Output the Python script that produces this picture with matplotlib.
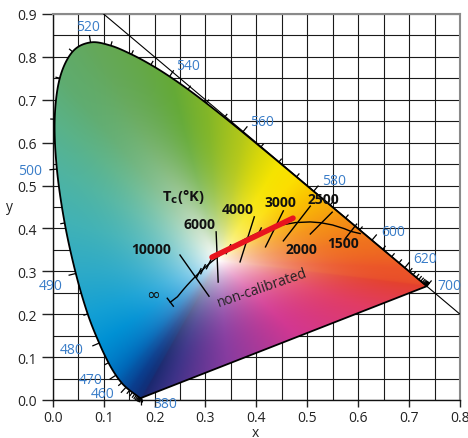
import numpy as np
import matplotlib
matplotlib.use("Agg")
import matplotlib.pyplot as plt
from matplotlib.path import Path
from matplotlib.patches import PathPatch

# ---------------- data ----------------
# CIE 1931 spectral locus (nm, x, y)
wl = [380, 385, 390, 395, 400, 405, 410, 415, 420, 425, 430, 435, 440, 445, 450,
      455, 460, 465, 470, 475, 480, 485, 490, 495, 500, 505, 510, 515, 520, 525,
      530, 535, 540, 545, 550, 555, 560, 565, 570, 575, 580, 585, 590, 595, 600,
      605, 610, 615, 620, 625, 630, 635, 640, 645, 650, 655, 660, 665, 670, 675,
      680, 685, 690, 695, 700]
loc_x = [0.1741, 0.1740, 0.1738, 0.1736, 0.1733, 0.1730, 0.1726, 0.1721, 0.1714, 0.1703,
         0.1689, 0.1669, 0.1644, 0.1611, 0.1566, 0.1510, 0.1440, 0.1355, 0.1241, 0.1096,
         0.0913, 0.0687, 0.0454, 0.0235, 0.0082, 0.0039, 0.0139, 0.0389, 0.0743, 0.1142,
         0.1547, 0.1929, 0.2296, 0.2658, 0.3016, 0.3373, 0.3731, 0.4087, 0.4441, 0.4788,
         0.5125, 0.5448, 0.5752, 0.6029, 0.6270, 0.6482, 0.6658, 0.6801, 0.6915, 0.7006,
         0.7079, 0.7140, 0.7190, 0.7230, 0.7260, 0.7283, 0.7300, 0.7311, 0.7320, 0.7327,
         0.7334, 0.7340, 0.7344, 0.7346, 0.7347]
loc_y = [0.0050, 0.0050, 0.0049, 0.0049, 0.0048, 0.0048, 0.0048, 0.0048, 0.0051, 0.0058,
         0.0069, 0.0086, 0.0109, 0.0138, 0.0177, 0.0227, 0.0297, 0.0399, 0.0578, 0.0868,
         0.1327, 0.2007, 0.2950, 0.4127, 0.5384, 0.6548, 0.7502, 0.8120, 0.8338, 0.8262,
         0.8059, 0.7816, 0.7543, 0.7243, 0.6923, 0.6589, 0.6245, 0.5896, 0.5547, 0.5202,
         0.4866, 0.4544, 0.4242, 0.3965, 0.3725, 0.3514, 0.3340, 0.3197, 0.3083, 0.2993,
         0.2920, 0.2859, 0.2809, 0.2770, 0.2740, 0.2717, 0.2700, 0.2689, 0.2680, 0.2673,
         0.2666, 0.2660, 0.2656, 0.2654, 0.2653]

# wavelength labels
wl_labels = ["520", "540", "560", "580", "600", "620", "700",
             "500", "490", "480", "470", "460", "380"]
wl_lab_x = [0.069, 0.265, 0.412, 0.553, 0.669, 0.731, 0.779,
            -0.045, -0.004, 0.038, 0.074, 0.099, 0.222]
wl_lab_y = [0.870, 0.781, 0.649, 0.511, 0.394, 0.331, 0.268,
            0.536, 0.268, 0.117, 0.047, 0.014, -0.007]
long_tick_wl = [380, 460, 470, 480, 490, 500, 520, 540, 560, 580, 600, 620, 700]

# colours seen along the spectral locus (nm -> RGB 0-255)
col_wl = [380, 440, 455, 465, 470, 475, 480, 485, 490, 495, 500, 505, 510, 520, 530,
          540, 550, 560, 565, 570, 575, 580, 585, 590, 600, 620, 700]
col_rgb = [(25, 40, 110), (15, 50, 125), (10, 62, 142), (5, 85, 165), (0, 105, 185),
           (0, 125, 200), (0, 145, 212), (20, 160, 212), (45, 170, 200), (65, 178, 182),
           (80, 180, 160), (90, 178, 135), (95, 172, 112), (100, 168, 90), (100, 168, 75),
           (100, 170, 55), (130, 182, 40), (180, 200, 25), (215, 215, 10), (245, 228, 0),
           (252, 222, 0), (250, 195, 0), (248, 170, 10), (245, 145, 20), (240, 115, 30),
           (235, 85, 40), (228, 65, 45)]
# colours along the purple line (fraction from 700 nm to 380 nm)
pur_t = [0.0, 0.2, 0.45, 0.7, 0.9, 1.0]
pur_rgb = [(228, 65, 45), (225, 60, 100), (210, 55, 145), (135, 60, 160), (60, 50, 135),
           (25, 40, 110)]
white_xy = (0.325, 0.325)

# Planckian locus (K, x, y)
pl_T = [1400, 1500, 1600, 1800, 2000, 2200, 2500, 2800, 3000, 3500, 4000, 4500,
        5000, 5500, 6000, 6500, 7000, 8000, 9000, 10000, 12000, 15000, 20000,
        30000, 50000, "inf"]
pl_x = [0.6040, 0.5857, 0.5732, 0.5496, 0.5267, 0.5056, 0.4770, 0.4520, 0.4369, 0.4053,
        0.3805, 0.3608, 0.3451, 0.3325, 0.3221, 0.3135, 0.3064, 0.2952, 0.2869, 0.2807,
        0.2719, 0.2637, 0.2565, 0.2501, 0.2450, 0.2310]
pl_y = [0.3880, 0.3931, 0.3993, 0.4081, 0.4133, 0.4152, 0.4137, 0.4086, 0.4041, 0.3907,
        0.3768, 0.3636, 0.3516, 0.3411, 0.3318, 0.3237, 0.3166, 0.3048, 0.2956, 0.2884,
        0.2776, 0.2671, 0.2573, 0.2480, 0.2407, 0.2280]

# isotherms (labelled temperatures), endpoints
iso_T = [10000, 6000, 4000, 3000, 2500, 2000, 1500]
iso_x1 = [0.250, 0.321, 0.396, 0.453, 0.506, 0.549, 0.597]
iso_y1 = [0.338, 0.392, 0.427, 0.441, 0.452, 0.438, 0.410]
iso_x2 = [0.307, 0.325, 0.368, 0.418, 0.453, 0.506, 0.575]
iso_y2 = [0.242, 0.275, 0.322, 0.357, 0.371, 0.387, 0.377]
iso_lab = ["10000", "6000", "4000", "3000", "2500", "2000", "1500"]
iso_lab_x = [0.193, 0.288, 0.363, 0.447, 0.531, 0.488, 0.571]
iso_lab_y = [0.352, 0.410, 0.445, 0.462, 0.469, 0.352, 0.366]
small_T = [9000, 8000, 7000, 5000, 3500]

# measured (non-calibrated) segment
red_x = [0.313, 0.472]
red_y = [0.333, 0.424]

# ---------------- figure ----------------
plt.rcParams["font.family"] = ["Open Sans", "DejaVu Sans"]
W, H = 468, 439
fig = plt.figure(figsize=(W / 100, H / 100), dpi=100)
L, B, AW, AH = 52.7 / W, 38 / H, (460 - 52.7) / W, (401 - 15) / H
ax = fig.add_axes([L, B, AW, AH])
ax.set_xlim(0, 0.8)
ax.set_ylim(0, 0.9)
sx = AW * W / 0.8
sy = AH * H / 0.9

ax.set_xticks(np.round(np.arange(0, 0.81, 0.1), 2))
ax.set_yticks(np.round(np.arange(0, 0.91, 0.1), 2))
ax.set_xticks(np.arange(0, 0.801, 0.05), minor=True)
ax.set_yticks(np.arange(0, 0.901, 0.05), minor=True)
ax.xaxis.set_major_formatter(matplotlib.ticker.FormatStrFormatter("%.1f"))
ax.yaxis.set_major_formatter(matplotlib.ticker.FormatStrFormatter("%.1f"))
ax.grid(which="both", color="#1a1a1a", lw=0.8)
ax.set_axisbelow(True)
ax.tick_params(which="minor", length=0)
ax.tick_params(axis="x", which="major", length=5, width=1, pad=2.5, labelsize=10, colors="#222")
ax.tick_params(axis="y", which="major", length=8, width=1, pad=3.5, labelsize=10, colors="#222")
for s in ["top", "right"]:
    ax.spines[s].set_color("#8a8a8a")
    ax.spines[s].set_linewidth(1.5)
for s in ["left", "bottom"]:
    ax.spines[s].set_color("#111")
    ax.spines[s].set_linewidth(1.0)

# ---- smooth locus (Catmull-Rom through the tabulated points) ----
P = np.column_stack([loc_x, loc_y])
Pe = np.vstack([P[0], P, P[-1]])
cw, curve = [], []
nsub = 12
for i in range(len(P) - 1):
    p0, p1, p2, p3 = Pe[i], Pe[i + 1], Pe[i + 2], Pe[i + 3]
    for s in np.linspace(0, 1, nsub, endpoint=False):
        s2, s3 = s * s, s * s * s
        pt = 0.5 * ((2 * p1) + (-p0 + p2) * s + (2 * p0 - 5 * p1 + 4 * p2 - p3) * s2
                    + (-p0 + 3 * p1 - 3 * p2 + p3) * s3)
        curve.append(pt)
        cw.append(wl[i] + (wl[i + 1] - wl[i]) * s)
curve.append(P[-1]); cw.append(wl[-1])
curve = np.array(curve); cw = np.array(cw)

# boundary colours
crgb = np.array(col_rgb, float) / 255
ccol = np.column_stack([np.interp(cw, col_wl, crgb[:, k]) for k in range(3)])
tt = np.linspace(0, 1, 200)[1:-1]
pur_x = loc_x[-1] + (loc_x[0] - loc_x[-1]) * tt
pur_y = loc_y[-1] + (loc_y[0] - loc_y[-1]) * tt
prgb = np.array(pur_rgb, float) / 255
pcol = np.column_stack([np.interp(tt, pur_t, prgb[:, k]) for k in range(3)])
bx = np.concatenate([curve[:, 0], pur_x]); by = np.concatenate([curve[:, 1], pur_y])
bc = np.vstack([ccol, pcol])

wx, wy = white_xy
ang = np.arctan2((by - wy) * sy, (bx - wx) * sx)
dist = np.hypot((by - wy) * sy, (bx - wx) * sx)
o = np.argsort(ang)
ang, dist, bc = ang[o], dist[o], bc[o]
ang_e = np.concatenate([ang - 2 * np.pi, ang, ang + 2 * np.pi])
dist_e = np.tile(dist, 3)
bc_e = np.vstack([bc, bc, bc])

xs = np.linspace(0, 0.8, 700)
ys = np.linspace(0, 0.9, 760)
GX, GY = np.meshgrid(xs, ys)
pa = np.arctan2((GY - wy) * sy, (GX - wx) * sx)
pdist = np.hypot((GY - wy) * sy, (GX - wx) * sx)
D = np.interp(pa, ang_e, dist_e)
r = np.clip(pdist / D, 0, 1)
f = 1 - (1 - r) ** 2.8
img = np.empty(GX.shape + (3,))
for k in range(3):
    ck = np.interp(pa, ang_e, bc_e[:, k])
    img[..., k] = 1.0 + (ck - 1.0) * f
img = np.clip(img, 0, 1)

verts = [tuple(p) for p in curve] + [tuple(curve[0])]
poly = Path(verts, closed=True)
patch = PathPatch(poly, facecolor="none", edgecolor="black", lw=1.3, zorder=5)
ax.add_patch(patch)
im = ax.imshow(img, origin="lower", extent=(0, 0.8, 0, 0.9), interpolation="bilinear",
               zorder=2, aspect="auto")
im.set_clip_path(patch)

# diagonal x + y = 1
ax.plot([0.1, 0.8], [0.9, 0.2], color="black", lw=0.8, zorder=4)

# wavelength ticks
lx = np.array(loc_x); ly = np.array(loc_y)
for i, w in enumerate(wl):
    i0 = max(i - 1, 0); i1 = min(i + 1, len(wl) - 1)
    tx = (lx[i1] - lx[i0]) * sx; ty = (ly[i1] - ly[i0]) * sy
    n = np.hypot(tx, ty)
    if n == 0:
        continue
    nx, ny = -ty / n, tx / n
    ln = 7.5 if w in long_tick_wl else 4.5
    ax.plot([lx[i], lx[i] + nx * ln / sx], [ly[i], ly[i] + ny * ln / sy],
            color="black", lw=0.9, zorder=5, clip_on=False, solid_capstyle="butt")

for t, x, y in zip(wl_labels, wl_lab_x, wl_lab_y):
    ax.text(x, y, t, color="#3a7dc8", fontsize=10, ha="center", va="center",
            zorder=6, clip_on=False)

# Planckian locus
ax.plot(pl_x, pl_y, color="black", lw=1.0, zorder=6)
ex, ey = pl_x[-1], pl_y[-1]
dx = (pl_x[-2] - ex) * sx; dy = (pl_y[-2] - ey) * sy
n = np.hypot(dx, dy)
px_, py_ = -dy / n, dx / n
ax.plot([ex - px_ * 5 / sx, ex + px_ * 5 / sx], [ey - py_ * 5 / sy, ey + py_ * 5 / sy],
        color="black", lw=1.0, zorder=6)

for x1, y1, x2, y2 in zip(iso_x1, iso_y1, iso_x2, iso_y2):
    ax.plot([x1, x2], [y1, y2], color="black", lw=1.0, zorder=6)

for T in small_T:
    k = pl_T.index(T)
    x0, y0 = pl_x[k], pl_y[k]
    ux, uy = 0.45, 0.9
    nn = np.hypot(ux, uy); ux /= nn; uy /= nn
    ax.plot([x0 - ux * 5 / sx, x0 + ux * 5 / sx], [y0 - uy * 5 / sy, y0 + uy * 5 / sy],
            color="black", lw=1.0, zorder=6)

ax.plot(red_x, red_y, color="#e8141e", lw=4.0, solid_capstyle="round", zorder=7)

for t, x, y in zip(iso_lab, iso_lab_x, iso_lab_y):
    ax.text(x, y, t, fontsize=10, fontweight="bold", ha="center", va="center", zorder=8,
            color="#111")

ax.text(0.256, 0.476, r"T$_\mathbf{c}$(°K)", fontsize=10.5, fontweight="bold",
        ha="center", va="center", zorder=8, color="#111")
ax.text(0.197, 0.247, "∞", fontsize=12, ha="center", va="center", zorder=8,
        color="#111", family=["DejaVu Sans"])
ax.text(0.412, 0.262, "non-calibrated", fontsize=10, rotation=19, ha="center",
        va="center", zorder=8, color="#222", rotation_mode="anchor")

fig.text(255 / W, 1 - 434 / H, "x", fontsize=10, ha="center", va="center", color="#222")
fig.text(9 / W, 1 - 208 / H, "y", fontsize=10, ha="center", va="center", color="#222")

fig.savefig("out.png", dpi=100)
